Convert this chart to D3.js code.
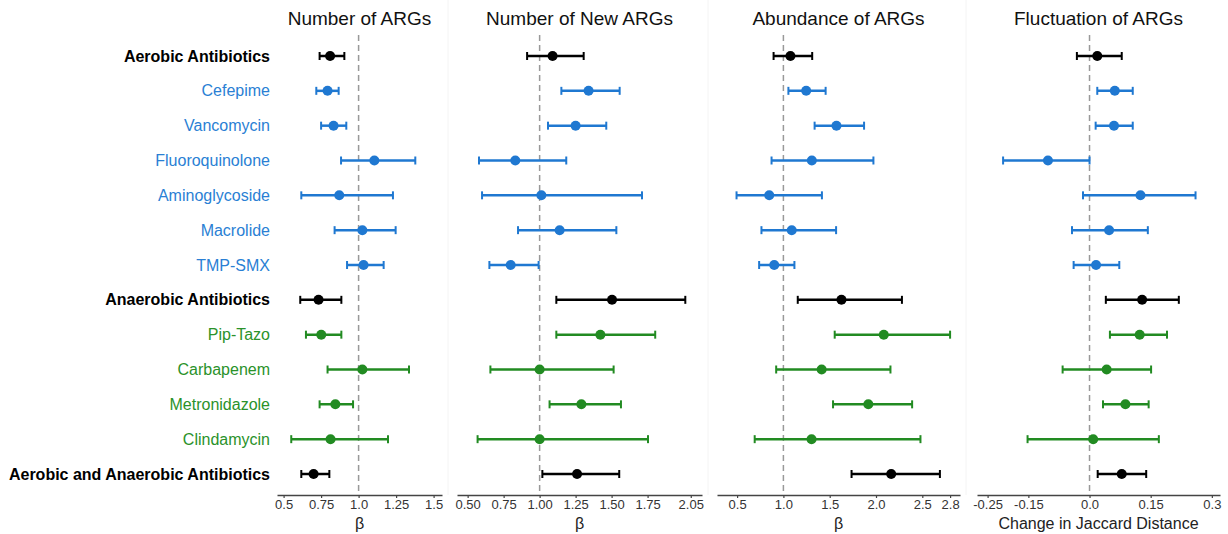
<!DOCTYPE html>
<html>
<head>
<meta charset="utf-8">
<script src="https://cdn.jsdelivr.net/npm/d3@7"></script>
<style>
  body { margin: 0; background: #fff; }
  svg { font-family: Arial, "Liberation Sans", sans-serif; }
</style>
</head>
<body>
<div id="chart"></div>
<script>
const rows = ["Aerobic Antibiotics", "Cefepime", "Vancomycin", "Fluoroquinolone", "Aminoglycoside",
  "Macrolide", "TMP-SMX", "Anaerobic Antibiotics", "Pip-Tazo", "Carbapenem", "Metronidazole",
  "Clindamycin", "Aerobic and Anaerobic Antibiotics"];
const groups = ["all", "aer", "aer", "aer", "aer", "aer", "aer", "all", "ana", "ana", "ana", "ana", "all"];

// estimate, lower, upper per row
const numArgs = [
  [0.81, 0.74, 0.905], [0.793, 0.718, 0.867], [0.833, 0.75, 0.918], [1.105, 0.883, 1.378],
  [0.871, 0.618, 1.229], [1.025, 0.84, 1.247], [1.033, 0.923, 1.167], [0.733, 0.611, 0.885],
  [0.751, 0.649, 0.885], [1.025, 0.793, 1.336], [0.845, 0.74, 0.963], [0.813, 0.551, 1.196],
  [0.70, 0.618, 0.805]];
const numNewArgs = [
  [1.09, 0.913, 1.306], [1.34, 1.151, 1.556], [1.25, 1.058, 1.463], [0.831, 0.579, 1.185],
  [1.012, 0.60, 1.711], [1.139, 0.85, 1.533], [0.799, 0.651, 0.993], [1.503, 1.116, 2.012],
  [1.422, 1.116, 1.803], [1.0, 0.658, 1.514], [1.29, 1.069, 1.565], [1.0, 0.569, 1.753],
  [1.26, 1.019, 1.553]];
const abundance = [
  [1.076, 0.894, 1.311], [1.246, 1.054, 1.456], [1.573, 1.337, 1.871], [1.307, 0.872, 1.972],
  [0.847, 0.494, 1.416], [1.09, 0.763, 1.569], [0.901, 0.738, 1.119], [1.627, 1.155, 2.28],
  [2.084, 1.554, 2.80], [1.413, 0.922, 2.156], [1.917, 1.536, 2.39], [1.304, 0.69, 2.48],
  [2.164, 1.736, 2.69]];
const fluctuation = [
  [0.019, -0.031, 0.079], [0.062, 0.019, 0.106], [0.060, 0.015, 0.106], [-0.102, -0.212, 0.0],
  [0.125, -0.016, 0.26], [0.048, -0.043, 0.143], [0.016, -0.039, 0.073], [0.129, 0.04, 0.219],
  [0.123, 0.05, 0.19], [0.042, -0.066, 0.151], [0.088, 0.033, 0.145], [0.009, -0.152, 0.17],
  [0.079, 0.02, 0.139]];

const ticks1 = [0.5, 0.75, 1.0, 1.25, 1.5];
const ticks2 = [0.5, 0.75, 1.0, 1.25, 1.5, 1.75, 2.05];
const ticks3 = [0.5, 1.0, 1.5, 2.0, 2.5, 2.8];
const ticks4 = [-0.25, -0.15, 0.0, 0.15, 0.3];

const panels = [
  { title: "Number of ARGs", data: numArgs, domain: [0.456, 1.556], x0: 277, x1: 442, ref: 1,
    ticks: ticks1, fmt: d => d === 1 ? "1.0" : String(d), xlab: "β" },
  { title: "Number of New ARGs", data: numNewArgs, domain: [0.426, 2.128], x0: 457, x1: 702, ref: 1,
    ticks: ticks2, fmt: d3.format(".2f"), xlab: "β" },
  { title: "Abundance of ARGs", data: abundance, domain: [0.283, 2.907], x0: 717, x1: 960, ref: 1,
    ticks: ticks3, fmt: d3.format(".1f"), xlab: "β" },
  { title: "Fluctuation of ARGs", data: fluctuation, domain: [-0.276, 0.32], x0: 977, x1: 1220, ref: 0,
    ticks: ticks4, fmt: d => d === 0 ? "0.0" : String(d), xlab: "Change in Jaccard Distance" }
];

const colors = { all: "#000000", aer: "#1f78d1", ana: "#228b22" };
const labelColors = { all: "#000000", aer: "#2a7fd4", ana: "#2a922a" };

const width = 1228, height = 534;
const axisY = 495;

const svg = d3.select("#chart").append("svg")
  .attr("width", width)
  .attr("height", height);

const y = d3.scalePoint()
  .domain(rows)
  .range([56, 474]);

// row labels
svg.append("g")
  .selectAll("text")
  .data(rows)
  .enter().append("text")
    .attr("x", 270)
    .attr("y", d => y(d))
    .attr("dy", "0.35em")
    .attr("text-anchor", "end")
    .attr("font-size", "16px")
    .attr("font-weight", (d, i) => groups[i] === "all" ? "bold" : "normal")
    .attr("fill", (d, i) => labelColors[groups[i]])
    .text(d => d);

// faint panel separators
[448, 708, 966].forEach(sx => {
  svg.append("line")
    .attr("x1", sx).attr("x2", sx)
    .attr("y1", 0).attr("y2", axisY)
    .attr("stroke", "#f4f4f4")
    .attr("stroke-width", 1);
});

panels.forEach(p => {
  const x = d3.scaleLinear().domain(p.domain).range([p.x0, p.x1]);
  const g = svg.append("g");

  // title
  g.append("text")
    .attr("x", (p.x0 + p.x1) / 2)
    .attr("y", 25)
    .attr("text-anchor", "middle")
    .attr("font-size", "19px")
    .attr("fill", "#111")
    .text(p.title);

  // reference line
  g.append("line")
    .attr("x1", x(p.ref)).attr("x2", x(p.ref))
    .attr("y1", 35).attr("y2", axisY)
    .attr("stroke", "#999")
    .attr("stroke-width", 1.5)
    .attr("stroke-dasharray", "6,4");

  // axis
  const ax = g.append("g")
    .attr("transform", "translate(0," + axisY + ")")
    .call(d3.axisBottom(x).tickValues(p.ticks).tickFormat(p.fmt).tickSize(3).tickSizeOuter(0));
  ax.select(".domain").attr("stroke", "#444").attr("stroke-width", 1.5);
  ax.selectAll(".tick line").attr("stroke", "#444").attr("stroke-width", 1.2);
  ax.selectAll(".tick text")
    .attr("font-size", "13px")
    .attr("font-family", "Arial, 'Liberation Sans', sans-serif")
    .attr("fill", "#333")
    .attr("dy", "0.6em");

  // x label
  g.append("text")
    .attr("x", (p.x0 + p.x1) / 2)
    .attr("y", 529)
    .attr("text-anchor", "middle")
    .attr("font-size", "16px")
    .attr("fill", "#222")
    .text(p.xlab);

  // error bars
  const bars = g.append("g")
    .selectAll("g")
    .data(p.data)
    .enter().append("g")
      .attr("stroke", (d, i) => colors[groups[i]])
      .attr("fill", (d, i) => colors[groups[i]]);

  bars.append("line")
    .attr("x1", d => x(d[1])).attr("x2", d => x(d[2]))
    .attr("y1", (d, i) => y(rows[i])).attr("y2", (d, i) => y(rows[i]))
    .attr("stroke-width", 2.5);
  bars.append("line")
    .attr("x1", d => x(d[1])).attr("x2", d => x(d[1]))
    .attr("y1", (d, i) => y(rows[i]) - 4).attr("y2", (d, i) => y(rows[i]) + 4)
    .attr("stroke-width", 2);
  bars.append("line")
    .attr("x1", d => x(d[2])).attr("x2", d => x(d[2]))
    .attr("y1", (d, i) => y(rows[i]) - 4).attr("y2", (d, i) => y(rows[i]) + 4)
    .attr("stroke-width", 2);
  bars.append("circle")
    .attr("cx", d => x(d[0]))
    .attr("cy", (d, i) => y(rows[i]))
    .attr("r", 5)
    .attr("stroke", "none");
});
</script>
</body>
</html>
